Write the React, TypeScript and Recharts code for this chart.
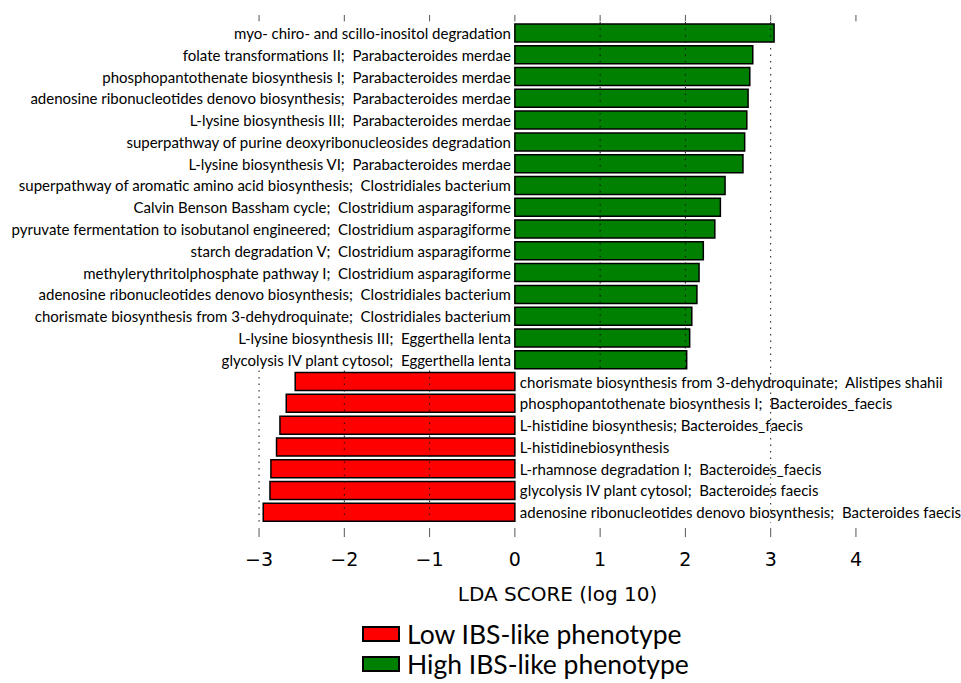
import { BarChart, Bar, XAxis, YAxis, ReferenceLine, LabelList, Legend } from 'recharts';

// pathways enriched in the high group (top, green) and low group (bottom, red)
const highLabels = [
  'myo- chiro- and scillo-inositol degradation',
  'folate transformations II;  Parabacteroides merdae',
  'phosphopantothenate biosynthesis I;  Parabacteroides merdae',
  'adenosine ribonucleotides denovo biosynthesis;  Parabacteroides merdae',
  'L-lysine biosynthesis III;  Parabacteroides merdae',
  'superpathway of purine deoxyribonucleosides degradation',
  'L-lysine biosynthesis VI;  Parabacteroides merdae',
  'superpathway of aromatic amino acid biosynthesis;  Clostridiales bacterium',
  'Calvin Benson Bassham cycle;  Clostridium asparagiforme',
  'pyruvate fermentation to isobutanol engineered;  Clostridium asparagiforme',
  'starch degradation V;  Clostridium asparagiforme',
  'methylerythritolphosphate pathway I;  Clostridium asparagiforme',
  'adenosine ribonucleotides denovo biosynthesis;  Clostridiales bacterium',
  'chorismate biosynthesis from 3-dehydroquinate;  Clostridiales bacterium',
  'L-lysine biosynthesis III;  Eggerthella lenta',
  'glycolysis IV plant cytosol;  Eggerthella lenta',
];
const highScores = [3.04, 2.79, 2.755, 2.735, 2.72, 2.695, 2.675, 2.465, 2.41, 2.345, 2.21, 2.16, 2.135, 2.075, 2.05, 2.015];

const lowLabels = [
  'chorismate biosynthesis from 3-dehydroquinate;  Alistipes shahii',
  'phosphopantothenate biosynthesis I;  Bacteroides_faecis',
  'L-histidine biosynthesis; Bacteroides_faecis',
  'L-histidinebiosynthesis',
  'L-rhamnose degradation I;  Bacteroides_faecis',
  'glycolysis IV plant cytosol;  Bacteroides faecis',
  'adenosine ribonucleotides denovo biosynthesis;  Bacteroides faecis',
];
const lowScores = [-2.576, -2.681, -2.755, -2.795, -2.861, -2.872, -2.951];

const xTicks = [-3, -2, -1, 0, 1, 2, 3, 4];

const groups = [
  { name: 'Low IBS-like phenotype', color: '#FF0000' },
  { name: 'High IBS-like phenotype', color: '#008000' },
];

const rows = [
  ...highLabels.map((label, i) => ({ idx: i, highName: label, high: highScores[i] })),
  ...lowLabels.map((label, i) => ({ idx: highLabels.length + i, lowName: label, low: lowScores[i] })),
];

const first = -0.5;
const split = highLabels.length - 0.5;
const last = rows.length - 0.5;
// axes frame sits a little outside the bars (row units), like the matplotlib original
const yMin = first - 0.32;
const yMax = last + 0.64;

// dotted grid, only where the original leaves it visible
const gridSpans = [
  { x: -3, from: split, to: last },
  { x: -2, from: split, to: last },
  { x: -1, from: split, to: last },
  { x: 1, from: first, to: split },
  { x: 2, from: first, to: split },
  { x: 3, from: first, to: last },
];
// short tick marks on the top and bottom edge of the frame
const tickMarks = [
  ...xTicks.map((x) => ({ x, from: yMin, to: first - 0.03 })),
  ...xTicks.map((x) => ({ x, from: last + 0.23, to: yMax })),
];

const LABEL_FONT = 'Lato, "Open Sans", sans-serif';

const fmt = (v: number) => (v < 0 ? '\u2212' + Math.abs(v) : String(v));

function BottomTick({ x, y, payload }: any) {
  return (
    <text x={x} y={y + 22} textAnchor="middle" dominantBaseline="central"
      fontFamily='"DejaVu Sans", sans-serif' fontSize={19} fill="#000">
      {fmt(payload.value)}
    </text>
  );
}

function HighLabel(props: any) {
  const vb = props.viewBox ?? props;
  if (props.value == null) return null;
  const zero = Math.min(vb.x, vb.x + vb.width);
  return (
    <text x={zero - 4} y={vb.y + vb.height / 2} textAnchor="end" dominantBaseline="central"
      fontFamily={LABEL_FONT} fontSize={15} fill="#000" style={{ whiteSpace: 'pre' }}>
      {props.value}
    </text>
  );
}

function LowLabel(props: any) {
  const vb = props.viewBox ?? props;
  if (props.value == null) return null;
  const zero = Math.max(vb.x, vb.x + vb.width);
  return (
    <text x={zero + 5} y={vb.y + vb.height / 2} textAnchor="start" dominantBaseline="central"
      fontFamily={LABEL_FONT} fontSize={15} fill="#000" style={{ whiteSpace: 'pre' }}>
      {props.value}
    </text>
  );
}

function LegendBox() {
  return (
    <div style={{ fontFamily: LABEL_FONT, fontSize: 26.5, color: '#000', lineHeight: '30px' }}>
      {groups.map((g) => (
        <div key={g.name} style={{ display: 'flex', alignItems: 'center', height: 30 }}>
          <span style={{
            display: 'inline-block', width: 38, height: 16, boxSizing: 'border-box',
            border: '2px solid #000', background: g.color, marginRight: 7,
          }} />
          <span>{g.name}</span>
        </div>
      ))}
    </div>
  );
}

export default function App() {
  return (
    <div style={{ position: 'absolute', left: 0, top: 0, background: '#fff' }}>
      <BarChart
        width={961}
        height={683}
        data={rows}
        layout="vertical"
        stackOffset="sign"
        margin={{ top: 15, right: 88, bottom: 86, left: 242 }}
      >
        <XAxis
          type="number"
          domain={[-3.2, 4.2]}
          ticks={xTicks}
          interval={0}
          axisLine={false}
          tickLine={false}
          tickSize={0}
          tickMargin={0}
          height={60}
          tick={<BottomTick />}
          label={{
            value: 'LDA SCORE (log 10)', position: 'insideTop', offset: 50,
            style: { fontFamily: '"DejaVu Sans", sans-serif', fontSize: 20, fill: '#000' },
          }}
        />
        <YAxis type="number" dataKey="idx" domain={[yMin, yMax]} allowDataOverflow hide />
        <Bar dataKey="low" name={groups[0].name} stackId="s" fill={groups[0].color}
          stroke="#000" strokeWidth={1.5} barSize={18} isAnimationActive={false}>
          <LabelList dataKey="lowName" content={<LowLabel />} />
        </Bar>
        <Bar dataKey="high" name={groups[1].name} stackId="s" fill={groups[1].color}
          stroke="#000" strokeWidth={1.5} barSize={18} isAnimationActive={false}>
          <LabelList dataKey="highName" content={<HighLabel />} />
        </Bar>
        {gridSpans.map((g) => (
          <ReferenceLine
            key={'g' + g.x}
            segment={[{ x: g.x, y: g.from }, { x: g.x, y: g.to }]}
            stroke="#111"
            strokeWidth={1}
            strokeDasharray="1.5 5"
          />
        ))}
        {tickMarks.map((t, i) => (
          <ReferenceLine
            key={'t' + i}
            segment={[{ x: t.x, y: t.from }, { x: t.x, y: t.to }]}
            ifOverflow="visible"
            stroke="#555"
            strokeWidth={1}
          />
        ))}
        <Legend
          layout="horizontal"
          align="center"
          verticalAlign="middle"
          content={() => <LegendBox />}
          wrapperStyle={{ left: 362, top: 619, width: 'auto' }}
        />
      </BarChart>
    </div>
  );
}
